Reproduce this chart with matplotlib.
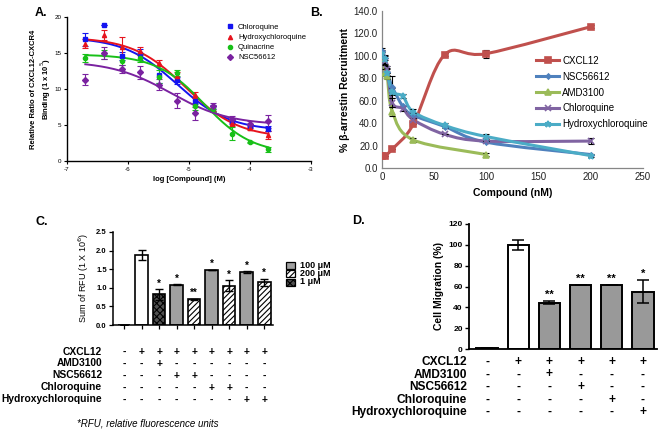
import numpy as np
import matplotlib
matplotlib.use("Agg")
import matplotlib.pyplot as plt
import matplotlib.transforms as mtransforms
from matplotlib.path import Path
from matplotlib.patches import PathPatch, Rectangle
from matplotlib.lines import Line2D

plt.rcParams['font.family'] = ['Liberation Sans', 'DejaVu Sans']
plt.rcParams['hatch.linewidth'] = 0.8
plt.rcParams['axes.unicode_minus'] = False

W, H = 661, 429

# ---------------- Panel A: binding curves ----------------
a_logx = [-6.7, -6.4, -6.1, -5.8, -5.5, -5.2, -4.9, -4.6, -4.3, -4.0, -3.7]
a_cq = [16.9, 18.9, 14.6, 14.8, 12.0, 11.2, 8.4, 7.4, 5.5, 4.9, 4.5]
a_cq_err = [0.9, 0.0, 0.6, 0.8, 1.2, 0.5, 0.5, 0.4, 0.4, 0.3, 0.4]
a_hcq = [16.3, 17.5, 15.8, 15.3, 13.6, 11.8, 9.2, 7.3, 5.3, 4.6, 3.6]
a_hcq_err = [0.6, 0.7, 1.4, 0.6, 0.4, 0.5, 0.4, 0.4, 0.4, 0.3, 0.5]
a_qn = [14.3, 14.8, 13.9, 14.3, 11.7, 12.2, 7.6, 7.2, 3.8, 2.6, 1.6]
a_qn_err = [0.5, 0.6, 0.6, 0.5, 0.9, 0.4, 0.5, 0.4, 0.9, 0.1, 0.3]
a_nsc = [11.3, 15.0, 12.8, 12.3, 10.6, 8.4, 6.6, 7.6, 5.8, 5.1, 5.5]
a_nsc_err = [0.8, 0.8, 0.6, 0.9, 0.8, 1.0, 0.9, 0.4, 0.5, 0.4, 0.9]
# fitted curves: top, bottom, logIC50, hill
a_cq_fit = [17.2, 4.2, -5.2, 1.0]
a_hcq_fit = [17.2, 3.2, -5.05, 1.0]
a_qn_fit = [14.8, 1.0, -4.75, 1.1]
a_nsc_fit = [13.9, 5.0, -5.3, 0.9]

# ---------------- Panel B: beta-arrestin recruitment ----------------
b_cxcl12_x = [0, 3, 10, 30, 60, 100, 200]
b_cxcl12 = [11, 11, 17, 39, 101, 102, 126]
b_cxcl12_err = [0, 0, 0, 0, 1.5, 3.5, 1.5]
b_drug_x = [0, 3, 5, 10, 20, 30, 60, 100, 200]
b_nsc = [104, 98, 86, 72, 55, 47, 37, 23, 12]
b_nsc_err = [3, 2, 3, 10, 0, 2, 0, 0, 0]
b_cq = [100, 95, 88, 58, 53, 43, 30, 24, 24]
b_cq_err = [3, 3, 3, 4, 2, 2, 0, 0, 2.5]
b_hcq = [102, 97, 85, 68, 64, 50, 38, 28, 11]
b_hcq_err = [3, 4, 3, 3, 2, 3, 2, 2, 1.5]
b_amd_x = [0, 3, 5, 10, 30, 100]
b_amd = [97, 85, 82, 50, 25, 12]
b_amd_err = [3, 3, 3, 4, 2, 1]

# ---------------- Panel C: RFU bars ----------------
c_values = [0.01, 1.88, 0.82, 1.08, 0.69, 1.48, 1.06, 1.42, 1.15]
c_errors = [0.0, 0.13, 0.14, 0.01, 0.01, 0.01, 0.14, 0.02, 0.09]
c_dose = ['none', 'none', '1', '100', '200', '100', '200', '100', '200']
c_stars = ['', '', '*', '*', '**', '*', '*', '*', '*']
c_table = [
    ['-', '+', '+', '+', '+', '+', '+', '+', '+'],
    ['-', '-', '+', '-', '-', '-', '-', '-', '-'],
    ['-', '-', '-', '+', '+', '-', '-', '-', '-'],
    ['-', '-', '-', '-', '-', '+', '+', '-', '-'],
    ['-', '-', '-', '-', '-', '-', '-', '+', '+'],
]
row_labels = ['CXCL12', 'AMD3100', 'NSC56612', 'Chloroquine', 'Hydroxychloroquine']

# ---------------- Panel D: migration bars ----------------
d_values = [1.0, 100, 44.5, 61, 61, 55]
d_errors = [0.3, 5, 1.5, 0, 0, 11]
d_stars = ['', '', '**', '**', '**', '*']
d_table = [
    ['-', '+', '+', '+', '+', '+'],
    ['-', '-', '+', '-', '-', '-'],
    ['-', '-', '-', '+', '-', '-'],
    ['-', '-', '-', '-', '+', '-'],
    ['-', '-', '-', '-', '-', '+'],
]


def px_axes(fig, left, top, right, bottom):
    # axes box given in pixel coords (from top-left)
    return fig.add_axes([left / W, 1 - bottom / H, (right - left) / W, (bottom - top) / H])


def smooth_path(x, y):
    # Excel-like smoothed line through the points
    pts = np.column_stack([x, y]).astype(float)
    verts = [pts[0]]
    codes = [Path.MOVETO]
    n = len(pts)
    for i in range(n - 1):
        p0 = pts[max(i - 1, 0)]
        p1 = pts[i]
        p2 = pts[i + 1]
        p3 = pts[min(i + 2, n - 1)]
        verts += [p1 + (p2 - p0) / 6, p2 - (p3 - p1) / 6, p2]
        codes += [Path.CURVE4] * 3
    return Path(verts, codes)


fig = plt.figure(figsize=(W / 100, H / 100), dpi=100)

# ======== A ========
axA = px_axes(fig, 67, 17, 311, 161)
a_series = [
    ('Chloroquine', a_cq, a_cq_err, a_cq_fit, '#1414f0', 's'),
    ('Hydroxychloroquine', a_hcq, a_hcq_err, a_hcq_fit, '#e6141e', '^'),
    ('Quinacrine', a_qn, a_qn_err, a_qn_fit, '#18c018', 'o'),
    ('NSC56612', a_nsc, a_nsc_err, a_nsc_fit, '#7a22a0', 'D'),
]
xs = np.linspace(-6.7, -3.7, 200)
handles = []
for name, vals, err, fit, col, mk in a_series:
    top, bot, c, hill = fit
    axA.plot(xs, bot + (top - bot) / (1 + 10 ** ((xs - c) * hill)), color=col, lw=1.4)
    axA.errorbar(a_logx, vals, yerr=err, fmt=mk, color=col, ms=3, capsize=2,
                 elinewidth=0.8, capthick=0.8)
    handles.append(Line2D([], [], ls='none', marker=mk, color=col, ms=3, label=name))
axA.set_xlim(-7, -3)
axA.set_ylim(0, 20)
axA.set_xticks([-7, -6, -5, -4, -3])
axA.set_yticks([0, 5, 10, 15, 20])
for s in ['top', 'right']:
    axA.spines[s].set_visible(False)
for s in ['left', 'bottom']:
    axA.spines[s].set_linewidth(1.0)
axA.tick_params(labelsize=4.5, length=2.5, width=0.8, pad=1.5)
axA.set_xlabel('log [Compound] (M)', fontsize=5.5, fontweight='bold', labelpad=3)
axA.set_ylabel('Relative Ratio of CXCL12-CXCR4\nBinding (1 x 10$^5$)', fontsize=5.5,
               fontweight='bold', labelpad=1)
axA.legend(handles=handles, loc='upper left', bbox_to_anchor=(222 / W, 1 - 20 / H),
           bbox_transform=fig.transFigure, frameon=False, fontsize=5.5,
           handlelength=1.0, handletextpad=0.6, labelspacing=0.35, borderpad=0)

# ======== B ========
axB = px_axes(fig, 382, 11, 643, 168)
b_series = [
    ('CXCL12', b_cxcl12_x, b_cxcl12, b_cxcl12_err, '#c0504d', 's', 4),
    ('NSC56612', b_drug_x, b_nsc, b_nsc_err, '#4f81bd', 'D', 2.5),
    ('AMD3100', b_amd_x, b_amd, b_amd_err, '#9bbb59', '^', 4),
    ('Chloroquine', b_drug_x, b_cq, b_cq_err, '#8064a2', 'x', 4.5),
    ('Hydroxychloroquine', b_drug_x, b_hcq, b_hcq_err, '#4bacc6', '*', 5),
]
handles = []
for name, x, y, err, col, mk, ms in b_series:
    axB.add_patch(PathPatch(smooth_path(x, y), fill=False, edgecolor=col, lw=2.2,
                            capstyle='round', joinstyle='round'))
    axB.errorbar(x, y, yerr=err, fmt='none', ecolor='black', elinewidth=0.8,
                 capsize=2, capthick=0.8, zorder=3)
    axB.plot(x, y, ls='none', marker=mk, color=col, ms=ms, mew=1.2, zorder=4)
    handles.append(Line2D([], [], color=col, lw=2.2, marker=mk, ms=ms, mew=1.2, label=name))
axB.set_xlim(0, 250)
axB.set_ylim(0, 140)
axB.set_xticks(range(0, 251, 50))
axB.set_yticks(range(0, 141, 20))
axB.set_yticklabels(['%.1f' % v for v in range(0, 141, 20)])
for s in ['top', 'right']:
    axB.spines[s].set_visible(False)
for s in ['left', 'bottom']:
    axB.spines[s].set_color('#868686')
    axB.spines[s].set_linewidth(0.9)
axB.tick_params(labelsize=7, length=0, pad=3, labelcolor='#222222')
axB.set_xlabel('Compound (nM)', fontsize=7.5, fontweight='bold', labelpad=4)
axB.set_ylabel('% β-arrestin Recruitment', fontsize=7.5, fontweight='bold', labelpad=3)
axB.legend(handles=handles, loc='upper left', bbox_to_anchor=(531 / W, 1 - 51 / H),
           bbox_transform=fig.transFigure, frameon=False, fontsize=7,
           handlelength=2.4, handletextpad=0.3, labelspacing=0.6, borderpad=0)

# ======== C ========
axC = px_axes(fig, 113, 232, 273, 325)
cx = np.arange(len(c_values))
face = {'none': 'white', '1': '#505050', '100': '#a0a0a0', '200': 'white'}
hatch = {'none': None, '1': 'xxxxx', '100': None, '200': '//////'}
bars = axC.bar(cx, c_values, width=0.72, color=[face[d] for d in c_dose],
               edgecolor='black', lw=1.2, zorder=2)
for b, d in zip(bars, c_dose):
    if hatch[d]:
        b.set_hatch(hatch[d])
axC.errorbar(cx, c_values, yerr=c_errors, fmt='none', ecolor='black', elinewidth=1,
             capsize=3, capthick=1, zorder=3)
for xi, v, e, s in zip(cx, c_values, c_errors, c_stars):
    if s:
        axC.text(xi, v + e + 0.02, s, ha='center', va='bottom', fontsize=7, fontweight='bold')
axC.set_xlim(-0.63, 8.5)
axC.set_ylim(0, 2.5)
axC.set_xticks(cx)
axC.set_xticklabels([])
axC.set_yticks([0, 0.5, 1.0, 1.5, 2.0, 2.5])
axC.set_yticklabels(['%.1f' % v for v in [0, 0.5, 1.0, 1.5, 2.0, 2.5]])
for s in ['top', 'right']:
    axC.spines[s].set_visible(False)
for s in ['left', 'bottom']:
    axC.spines[s].set_linewidth(1.1)
axC.tick_params(labelsize=5.5, length=3, width=0.9, pad=1.5)
for lab in axC.get_yticklabels():
    lab.set_fontweight('bold')
axC.set_ylabel('Sum of RFU (1 X 10$^6$)', fontsize=6.5, labelpad=4)

tC = mtransforms.blended_transform_factory(axC.transData, fig.transFigure)
c_rows_y = [352, 363.5, 375.5, 387.5, 399.5]
for row, lab, ypx in zip(c_table, row_labels, c_rows_y):
    fig.text(102 / W, 1 - ypx / H, lab, ha='right', va='center', fontsize=7.4, fontweight='bold')
    for xi, sgn in zip(cx, row):
        axC.text(xi, 1 - ypx / H, sgn, transform=tC, ha='center', va='center',
                 fontsize=7.4, fontweight='bold')
fig.text(148 / W, 1 - 423 / H, '*RFU, relative fluorescence units', ha='center',
         va='center', fontsize=7, style='italic')

clip = mtransforms.Bbox.from_extents(0, 0, 333, H)
leg_items = [('100 μM', '100'), ('200 μM', '200'), ('1 μM', '1')]
for i, (lab, d) in enumerate(leg_items):
    yc = 265 + 8.5 * i
    r = Rectangle((286 / W, 1 - (yc + 3.5) / H), 9 / W, 7 / H, transform=fig.transFigure,
                  facecolor=face[d], edgecolor='black', lw=0.9, hatch=hatch[d])
    fig.add_artist(r)
    t = fig.text(300 / W, 1 - yc / H, lab, ha='left', va='center', fontsize=6.5,
                 fontweight='bold')
    t.set_clip_box(clip)
    t.set_clip_on(True)

# ======== D ========
axD = px_axes(fig, 469, 224, 657, 349)
dx = np.arange(len(d_values))
dface = ['white', 'white', '#999999', '#999999', '#999999', '#999999']
axD.bar(dx, d_values, width=0.68, color=dface, edgecolor='black', lw=1.4, zorder=2)
axD.errorbar(dx, d_values, yerr=d_errors, fmt='none', ecolor='black', elinewidth=1.1,
             capsize=4, capthick=1.1, zorder=3)
for xi, v, e, s in zip(dx, d_values, d_errors, d_stars):
    if s:
        axD.text(xi, v + e + 1.5, s, ha='center', va='bottom', fontsize=8, fontweight='bold')
axD.set_xlim(-0.58, 5.45)
axD.set_ylim(0, 120)
axD.set_xticks([])
axD.set_yticks(range(0, 121, 20))
for s in ['top', 'right']:
    axD.spines[s].set_visible(False)
for s in ['left', 'bottom']:
    axD.spines[s].set_linewidth(1.3)
axD.tick_params(labelsize=6, length=3, width=1, pad=1.5)
for lab in axD.get_yticklabels():
    lab.set_fontweight('bold')
axD.set_ylabel('Cell Migration (%)', fontsize=7.5, fontweight='bold', labelpad=3)

tD = mtransforms.blended_transform_factory(axD.transData, fig.transFigure)
d_rows_y = [362, 374.5, 387, 399.5, 411.5]
for row, lab, ypx in zip(d_table, row_labels, d_rows_y):
    fig.text(467 / W, 1 - ypx / H, lab, ha='right', va='center', fontsize=8.6, fontweight='bold')
    for xi, sgn in zip(dx, row):
        axD.text(xi, 1 - ypx / H, sgn, transform=tD, ha='center', va='center',
                 fontsize=8.6, fontweight='bold')

# panel letters
for lab, xp, yp in [('A.', 35, 13), ('B.', 310, 13), ('C.', 35, 222), ('D.', 352, 221)]:
    fig.text(xp / W, 1 - yp / H, lab, ha='left', va='center', fontsize=9, fontweight='bold')

fig.savefig('out.png', dpi=100)
